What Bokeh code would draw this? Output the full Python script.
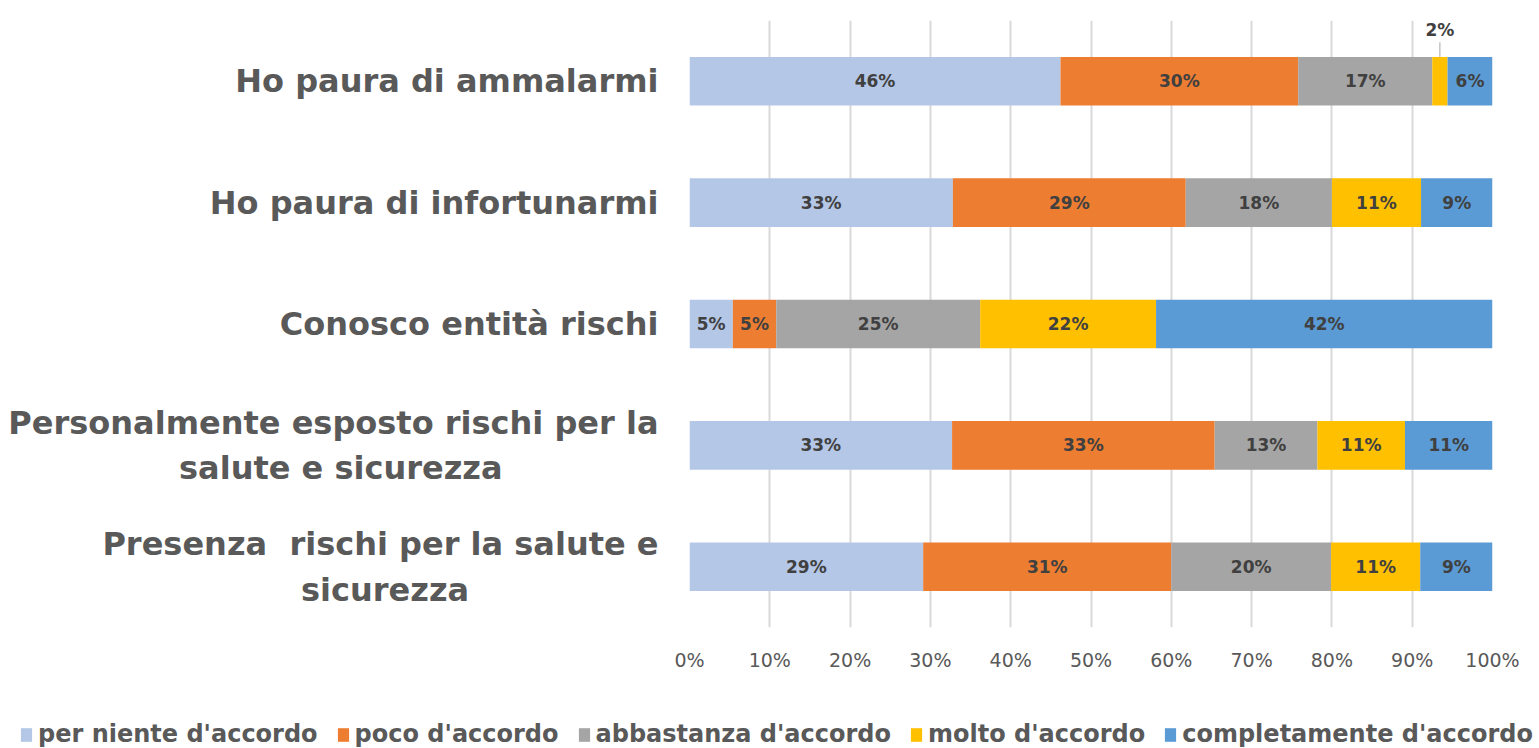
from bokeh.plotting import figure
from bokeh.layouts import column
from bokeh.models import (ColumnDataSource, FactorRange, Range1d, FixedTicker,
                          NumeralTickFormatter, Legend, LegendItem)
from bokeh.core.properties import value
from bokeh.transform import dodge
from bokeh.embed import file_html
from bokeh.resources import INLINE

NB = "\u00a0"

# ---------------- data ----------------
categories = [
    "Presenza" + NB + " rischi per la salute e\nsicurezza" + NB * 17,
    "Personalmente esposto rischi per la\nsalute e sicurezza" + NB * 14,
    "Conosco entità rischi",
    "Ho paura di infortunarmi",
    "Ho paura di ammalarmi",
]
series = ["per niente d'accordo", "poco d'accordo", "abbastanza d'accordo",
          "molto d'accordo", "completamente d'accordo"]
per_niente    = [29.1, 32.7, 5.4, 32.8, 46.2]
poco          = [30.9, 32.7, 5.4, 29.0, 29.6]
abbastanza    = [19.9, 12.8, 25.4, 18.2, 16.7]
molto         = [11.1, 10.9, 21.9, 11.1, 1.9]
completamente = [9.0, 10.9, 41.9, 8.9, 5.6]
colors = ["#B4C7E7", "#ED7D31", "#A5A5A5", "#FFC000", "#5B9BD5"]
x_ticks = [0, 10, 20, 30, 40, 50, 60, 70, 80, 90, 100]

values = [per_niente, poco, abbastanza, molto, completamente]
keys = ["s%d" % i for i in range(len(series))]

data = {"cat": categories}
for k, v in zip(keys, values):
    data[k] = [x / 100.0 for x in v]
source = ColumnDataSource(data)

p = figure(width=1539, height=700, output_backend="svg", toolbar_location=None,
           y_range=FactorRange(*categories), x_range=Range1d(0, 1),
           min_border_left=689, min_border_right=47, min_border_top=20,
           min_border_bottom=73)
p.frame_align = False

renderers = p.hbar_stack(keys, y="cat", height=0.4, color=colors,
                         line_color=None, source=source)

# data labels
in_x, in_y, in_t = [], [], []
out_x, out_y, out_t = [], [], []
for ci, c in enumerate(categories):
    cum = 0.0
    for si in range(len(series)):
        v = values[si][ci]
        center = (cum + v / 2.0) / 100.0
        lab = "%d%%" % int(round(v))
        if v < 3:
            out_x.append(center); out_y.append(c); out_t.append(lab)
        else:
            in_x.append(center); in_y.append(c); in_t.append(lab)
        cum += v

in_src = ColumnDataSource(dict(x=in_x, y=in_y, t=in_t))
out_src = ColumnDataSource(dict(x=out_x, y=out_y, t=out_t))

lbl_style = dict(text_align="center", text_baseline="middle",
                 text_font_size="17px", text_font_style="bold",
                 text_color="#404040", text_font=value("DejaVu Sans"))
p.text(x="x", y="y", text="t", source=in_src, **lbl_style)

p.segment(x0="x", x1="x", y0=dodge("y", 0.2, range=p.y_range),
          y1=dodge("y", 0.32, range=p.y_range), source=out_src,
          line_color="#A6A6A6", line_width=1)
p.text(x="x", y=dodge("y", 0.42, range=p.y_range), text="t", source=out_src,
       **lbl_style)

# axes
p.xaxis.ticker = FixedTicker(ticks=[t / 100.0 for t in x_ticks])
p.xaxis.formatter = NumeralTickFormatter(format="0%")
p.xaxis.axis_line_color = None
p.xaxis.major_tick_line_color = None
p.xaxis.minor_tick_line_color = None
p.xaxis.major_label_text_font = "DejaVu Sans"
p.xaxis.major_label_text_font_size = "19px"
p.xaxis.major_label_text_color = "#595959"
p.xaxis.major_label_standoff = 15

p.yaxis.axis_line_color = None
p.yaxis.major_tick_line_color = None
p.yaxis.minor_tick_line_color = None
p.yaxis.major_label_text_font = "DejaVu Sans"
p.yaxis.major_label_text_font_style = "bold"
p.yaxis.major_label_text_font_size = "32px"
p.yaxis.major_label_text_color = "#595959"
p.yaxis.major_label_standoff = 25

p.xgrid.grid_line_color = "#D9D9D9"
p.xgrid.grid_line_width = 2
p.ygrid.grid_line_color = None
p.outline_line_color = None

# legend strip (separate figure below the chart)
pl = figure(width=1539, height=48, output_backend="svg", toolbar_location=None,
            x_axis_location=None, y_axis_location=None,
            x_range=Range1d(1, 2), y_range=Range1d(1, 2),
            min_border_left=0, min_border_right=0, min_border_top=0,
            min_border_bottom=0)
pl.frame_align = False
pl.xgrid.grid_line_color = None
pl.ygrid.grid_line_color = None
pl.outline_line_color = None
leg_renderers = [pl.hbar(y=[0], right=[0], height=0.4, fill_color=c, line_color=None)
                 for c in colors]
legend = Legend(items=[LegendItem(label=s, renderers=[r])
                       for s, r in zip(series, leg_renderers)],
                orientation="horizontal", location=(19, 0),
                glyph_width=14, glyph_height=17, label_standoff=5, spacing=18,
                padding=0, margin=0, border_line_color=None,
                background_fill_alpha=0,
                label_text_font="DejaVu Sans",
                label_text_font_style="bold", label_text_font_size="24px",
                label_text_color="#595959", label_height=24)
pl.add_layout(legend, "center")

layout = column(p, pl, spacing=0)
open("out.html", "w").write(file_html(layout, INLINE))
